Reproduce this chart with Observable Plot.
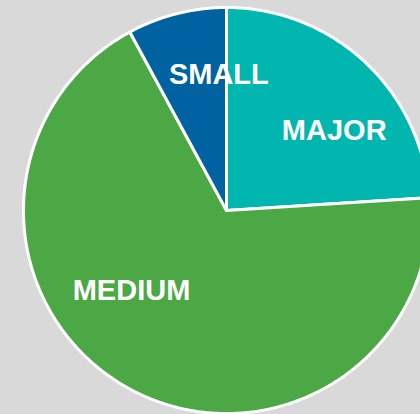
<!DOCTYPE html>
<html>
<head>
<meta charset="utf-8">
<script src="https://cdn.jsdelivr.net/npm/d3@7"></script>
<script src="https://cdn.jsdelivr.net/npm/@observablehq/plot@0.6"></script>
<style>
  html, body { margin: 0; padding: 0; background: #d9d9d9; overflow: hidden; }
  #chart svg { display: block; background: transparent; }
</style>
</head>
<body>
<div id="chart"></div>
<script>
// ---- data ----
const categories = ["MAJOR", "MEDIUM", "SMALL"];
const shares = [24.0, 68.1, 7.9];
const sliceColors = ["#00b6ae", "#4ba844", "#0062a0"];

// ---- layout ----
const W = 420, H = 414;
const cx = 226, cy = 210, R = 203;
const labelRadius = [0.66, 0.61, 0.675];
const labelNudge = { MAJOR: [16, 18], MEDIUM: [-35, -28], SMALL: [26, -3] };

const table = categories.map((c, i) => ({ cat: c, value: shares[i] }));
const arcs = d3.pie().sort(null).value(d => d.value).startAngle(0)(table);

// polygon outline for each slice (center -> arc -> center)
const points = [];
for (const a of arcs) {
  const n = Math.max(2, Math.ceil((a.endAngle - a.startAngle) / (Math.PI / 360)));
  points.push({ cat: a.data.cat, x: 0, y: 0 });
  for (let k = 0; k <= n; k++) {
    const t = a.startAngle + (a.endAngle - a.startAngle) * k / n;
    points.push({ cat: a.data.cat, x: R * Math.sin(t), y: R * Math.cos(t) });
  }
  points.push({ cat: a.data.cat, x: 0, y: 0 });
}

const labels = arcs.map((a, i) => {
  const m = (a.startAngle + a.endAngle) / 2;
  const r = R * labelRadius[i];
  const [nx, ny] = labelNudge[a.data.cat];
  return { cat: a.data.cat, x: r * Math.sin(m) + nx, y: r * Math.cos(m) - ny };
});

const chart = Plot.plot({
  width: W,
  height: H,
  margin: 0,
  style: { background: "transparent", fontFamily: "'Liberation Sans', Arial, sans-serif" },
  x: { domain: [-cx, W - cx], axis: null },
  y: { domain: [-(H - cy), cy], axis: null },
  color: { domain: categories, range: sliceColors },
  marks: [
    Plot.line(points, {
      x: "x", y: "y", z: "cat", fill: "cat",
      stroke: "white", strokeWidth: 3, strokeLinejoin: "miter", curve: "linear"
    }),
    Plot.text(labels, {
      x: "x", y: "y", text: "cat",
      fill: "white", fontSize: 29, fontWeight: "bold", textAnchor: "middle"
    })
  ]
});
document.getElementById("chart").append(chart);
</script>
</body>
</html>
